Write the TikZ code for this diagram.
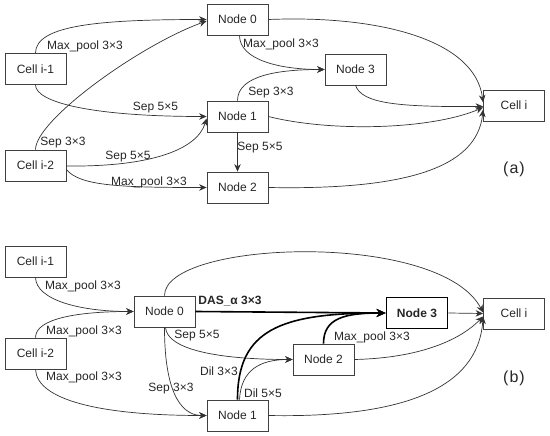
\documentclass[tikz,border=0pt]{standalone}
\usepackage{fontspec}
\setmainfont{Liberation Sans}
\usetikzlibrary{arrows.meta}
\begin{document}
\begin{tikzpicture}[x=1pt,y=1pt,
  box/.style={draw=black!75, line width=0.8pt, minimum width=61pt, minimum height=31pt, inner sep=0pt, font=\fontsize{12}{14}\selectfont, text=black!85},
  boldbox/.style={box, draw=black, line width=1.8pt, font=\bfseries\fontsize{12}{14}\selectfont},
  lbl/.style={inner sep=0pt, font=\fontsize{12}{14}\selectfont, text=black!85},
  blbl/.style={lbl, font=\bfseries\fontsize{12}{14}\selectfont},
  partlbl/.style={inner sep=0pt, font=\fontsize{16}{18}\selectfont, text=black!85},
  arr/.style={draw=black!80, line width=0.7pt, -{Stealth[length=7.5pt,width=6.5pt]}},
  barr/.style={draw=black, line width=1.6pt, -{Stealth[length=9pt,width=8pt]}},
]
\useasboundingbox (0,0) rectangle (550,-436);
% ---------------- (a) ----------------
\node[box] (a0) at (237.5,-19.5) {Node 0};
\node[box] (am1) at (35.5,-69) {Cell i-1};
\node[box] (a3) at (355.5,-69.5) {Node 3};
\node[box] (a1) at (237.5,-116.5) {Node 1};
\node[box] (ac) at (514,-105.5) {Cell i};
\node[box] (am2) at (35.5,-165.5) {Cell i-2};
\node[box] (a2) at (237.5,-187.5) {Node 2};
\node[partlbl] (la) at (514,-169) {(\kern1pt a\kern1pt)};

\draw[arr] (am1.north) .. controls (35.5,-25) and (100,-19.5) .. (a0.west);
\draw[arr] (am2.north) .. controls (35.5,-120) and (140,-45) .. ([yshift=-1.5pt]a0.west);
\draw[arr] (am1.south) .. controls (35.5,-102) and (90,-116.5) .. (a1.west);
\draw[arr] ([yshift=-0.5pt]am2.east) .. controls (150,-167) and (197,-150) .. ([yshift=-2pt]a1.west);
\draw[arr] ([yshift=-4pt]am2.east) .. controls (80,-186) and (120,-187.5) .. (a2.west);
\draw[arr] ([xshift=2pt]a0.south) .. controls (239.5,-60) and (280,-69.5) .. (a3.west);
\draw[arr] (a1.north) .. controls (237.5,-75) and (280,-69.5) .. (a3.west);
\draw[arr] (a1.south) -- (a2.north);
\draw[arr] (a0.east) .. controls (380,-15) and (475,-40) .. ([yshift=3pt]ac.west);
\draw[arr] (a3.south) .. controls (362,-104) and (400,-107) .. ([yshift=-1pt]ac.west);
\draw[arr] (a1.east) .. controls (330,-132) and (430,-130) .. ([yshift=-2pt]ac.west);
\draw[arr] (a2.east) .. controls (400,-190) and (477,-170) .. ([yshift=-4pt]ac.west);

\node[lbl] (la1) at (85,-46.5) {Max\_pool 3×3};
\node[lbl] (la2) at (155.5,-107.5) {Sep 5×5};
\node[lbl] (la3) at (63,-142.5) {Sep 3×3};
\node[lbl] (la4) at (128,-157) {Sep 5×5};
\node[lbl] (la5) at (149,-182) {Max\_pool 3×3};
\node[lbl] (la6) at (281,-44) {Max\_pool 3×3};
\node[lbl] (la7) at (271,-93) {Sep 3×3};
\node[lbl] (la8) at (260,-147.5) {Sep 5×5};

% ---------------- (b) ----------------
\node[box] (bm1) at (35.5,-261.5) {Cell i-1};
\node[box] (b0) at (164.5,-311.5) {Node 0};
\node[boldbox] (b3) at (417,-313) {Node 3};
\node[box] (bc) at (514,-313.5) {Cell i};
\node[box] (bm2) at (35.5,-353.5) {Cell i-2};
\node[box] (b2) at (323.5,-359.5) {Node 2};
\node[box] (b1) at (237.5,-415.5) {Node 1};
\node[partlbl] (lb) at (514,-378) {(\kern1pt b\kern1pt)};

\draw[arr] (bm1.south) .. controls (36,-300) and (80,-311.5) .. (b0.west);
\draw[arr] (bm2.north) .. controls (35.5,-318) and (80,-311.5) .. (b0.west);
\draw[arr] (bm2.south) .. controls (37,-400) and (100,-415.5) .. (b1.west);
\draw[arr] (b0.north) .. controls (164.5,-240) and (440,-230) .. ([yshift=1pt]bc.west);
\draw[barr] (b0.east) -- (b3.west);
\draw[arr] ([xshift=1pt]b0.south) .. controls (167,-350) and (220,-359.5) .. (b2.west);
\draw[arr] (b0.south) .. controls (164.5,-400) and (185,-415.5) .. (b1.west);
\draw[barr] (b1.north) .. controls (237.5,-330) and (280,-313) .. (b3.west);
\draw[arr] ([xshift=2pt]b1.north) .. controls (241,-370) and (260,-359.5) .. (b2.west);
\draw[barr] (b2.north) .. controls (323.5,-318) and (345,-313) .. (b3.west);
\draw[arr] (b3.east) -- (bc.west);
\draw[arr] (b2.east) .. controls (420,-358) and (460,-340) .. ([yshift=-3pt]bc.west);
\draw[arr] (b1.east) .. controls (400,-418) and (478,-390) .. ([yshift=-3pt]bc.west);

\node[lbl] (lb1) at (83,-286) {Max\_pool 3×3};
\node[lbl] (lb2) at (84,-331) {Max\_pool 3×3};
\node[lbl] (lb3) at (84,-377) {Max\_pool 3×3};
\node[blbl] (lb4) at (230,-301) {DAS\_α 3×3};
\node[lbl] (lb5) at (197,-336) {Sep 5×5};
\node[lbl] (lb6) at (219,-371) {Dil 3×3};
\node[lbl] (lb7) at (171,-389) {Sep 3×3};
\node[lbl] (lb8) at (263,-393) {Dil 5×5};
\node[lbl] (lb9) at (372,-337) {Max\_pool 3×3};
\end{tikzpicture}
\end{document}
